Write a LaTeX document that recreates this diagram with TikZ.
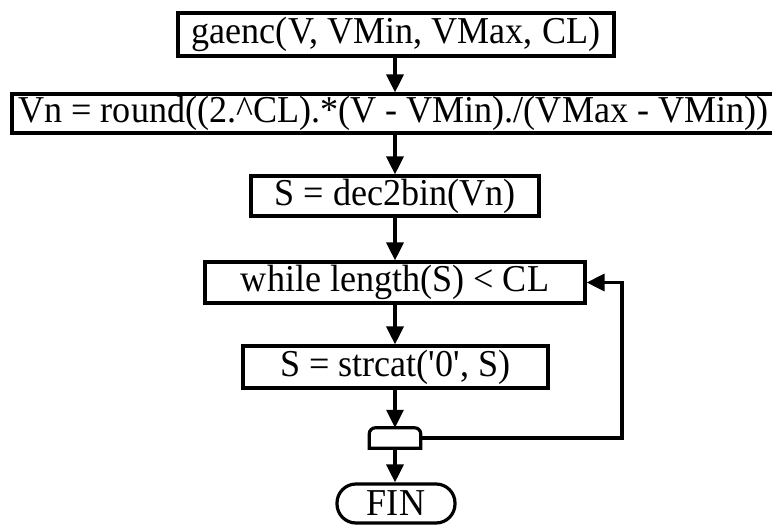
\documentclass[tikz,border=0pt]{standalone}
\usepackage{fontspec}
\setmainfont{Liberation Serif}[FakeStretch=0.95]
\usetikzlibrary{arrows.meta}
\begin{document}
\begin{tikzpicture}[x=1pt,y=-1pt,
  box/.style={draw,line width=3.2pt,inner sep=0pt,font=\fontsize{38}{40}\selectfont},
  arr/.style={line width=3.2pt,-{Triangle[length=18pt,width=17pt]}}]
\useasboundingbox (0,0) rectangle (772,525);
\node[box,minimum width=436,minimum height=43] (b1) at (396,34.5) {gaenc(V, VMin, VMax, CL)};
\node[box,minimum width=763,minimum height=39] (b2) at (393.5,113.5) {Vn = round((2.\textasciicircum CL).*(V - VMin)./(VMax - VMin))};
\node[box,minimum width=288,minimum height=40] (b3) at (395,196) {S = dec2bin(Vn)};
\node[box,minimum width=380,minimum height=41] (b4) at (395,282.5) {while length(S) < CL};
\node[box,minimum width=305,minimum height=42] (b5) at (395.5,367) {S = strcat(\textquotesingle 0\textquotesingle, S)};
\node[minimum width=51,minimum height=20,inner sep=0pt] (sm) at (395,438) {};
\draw[line width=3.2pt] (sm.south west) [rounded corners=6pt]-- (sm.north west) -- (sm.north east) [sharp corners]-- (sm.south east) -- cycle;
\node[box,rounded corners=19pt,minimum width=118,minimum height=39] (fin) at (396,503.5) {FIN};
\coordinate (lp) at (622,0);
\draw[arr] (b1.south -| 395,0) -- (b2.north -| 395,0);
\draw[arr] (b2.south -| 395,0) -- (b3.north -| 395,0);
\draw[arr] (b3.south -| 395,0) -- (b4.north -| 395,0);
\draw[arr] (b4.south -| 395,0) -- (b5.north -| 395,0);
\draw[arr] (b5.south -| 395,0) -- (sm.north -| 395,0);
\draw[arr] (sm.south -| 395,0) -- (fin.north -| 395,0);
\draw[arr] (sm.east) -- (sm.east -| lp) -- (b4.east -| lp) -- (b4.east);
\end{tikzpicture}
\end{document}
